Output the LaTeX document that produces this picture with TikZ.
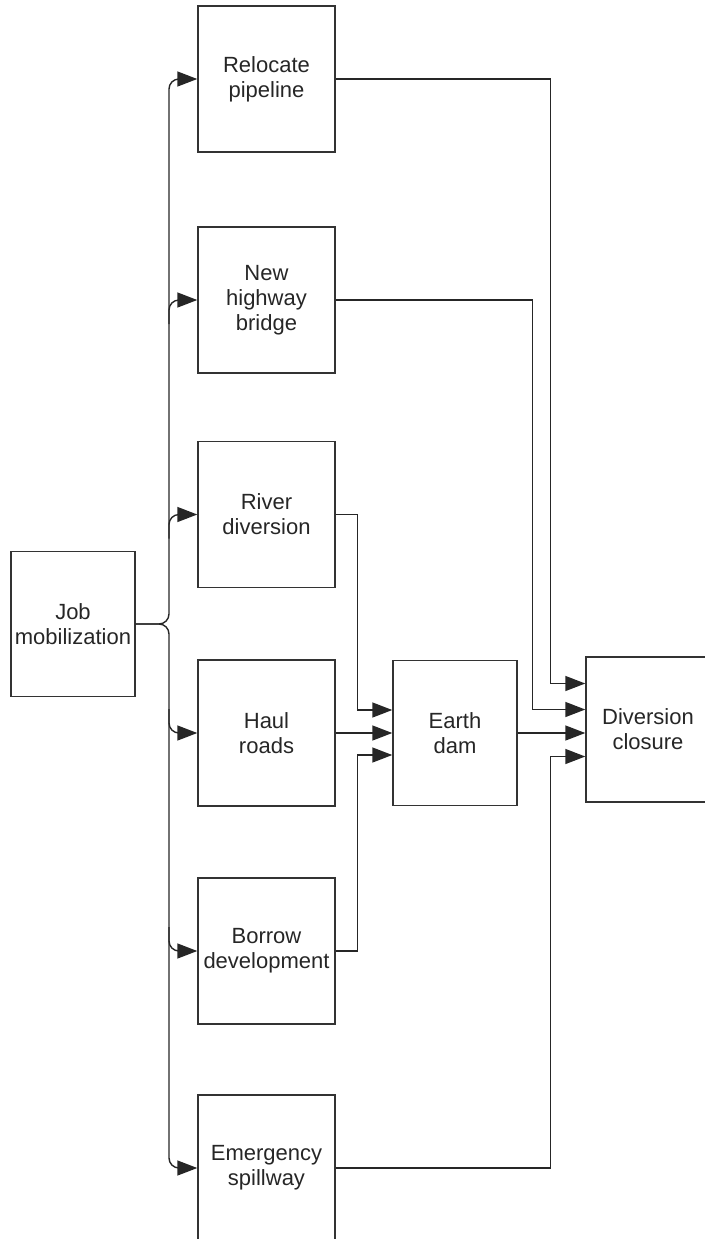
\documentclass[tikz,border=0pt]{standalone}
\usepackage{fontspec}
\setmainfont{Liberation Sans}
\usetikzlibrary{calc}
\usetikzlibrary{arrows.meta}

\begin{document}
\begin{tikzpicture}[x=0.5pt, y=-0.5pt,
        every node/.style={draw=black!80, line width=0.7pt, align=center,
            font=\fontsize{11}{12.5}\selectfont, text=black!85, inner sep=1pt},
        task/.style={minimum width=68.5pt, minimum height=73pt},
        small/.style={minimum width=62pt, minimum height=72.5pt},
        flow/.style={draw=black!85, line width=0.7pt, -{Triangle[length=10pt, width=7.5pt]}}]
    \useasboundingbox (0,0) rectangle (705,1239);
    \node[small] (job) at (73,624) {Job\\mobilization};
    \node[task] (pipe) at (266.5,79) {Relocate\\pipeline};
    \node[task] (bridge) at (266.5,300) {New\\highway\\bridge};
    \node[task] (river) at (266.5,514.5) {River\\diversion};
    \node[task] (haul) at (266.5,733) {Haul\\roads};
    \node[task] (borrow) at (266.5,951) {Borrow\\development};
    \node[task] (spill) at (266.5,1168) {Emergency\\spillway};
    \node[small] (dam) at (455,733) {Earth\\dam};
    \node[small] (div) at (648,729.5) {Diversion\\closure};
    \coordinate (bus) at (169,624);

    \draw[flow, rounded corners=5pt] (job.east) -| (bus |- pipe.west) -- (pipe.west);
    \draw[flow, rounded corners=5pt] (job.east) -| (bus |- spill.west) -- (spill.west);
    \draw[flow, rounded corners=5pt] ($(bus |- bridge.west)+(0,24)$) -- (bus |- bridge.west) -- (bridge.west);
    \draw[flow, rounded corners=5pt] ($(bus |- river.west)+(0,24)$) -- (bus |- river.west) -- (river.west);
    \draw[flow, rounded corners=5pt] ($(bus |- haul.west)+(0,-24)$) -- (bus |- haul.west) -- (haul.west);
    \draw[flow, rounded corners=5pt] ($(bus |- borrow.west)+(0,-24)$) -- (bus |- borrow.west) -- (borrow.west);

    \draw[flow] (river.east) -| ($(dam.west)+(-35,-23)$) -- ($(dam.west)+(0,-23)$);
    \draw[flow] (haul.east) -- (dam.west);
    \draw[flow] (borrow.east) -| ($(dam.west)+(-35,22)$) -- ($(dam.west)+(0,22)$);

    \draw[flow] (pipe.east) -| ($(div.west)+(-35,-46)$) -- ($(div.west)+(0,-46)$);
    \draw[flow] (bridge.east) -| ($(div.west)+(-53,-20)$) -- ($(div.west)+(0,-20)$);
    \draw[flow] (dam.east) -- (dam.east -| div.west);
    \draw[flow] (spill.east) -| ($(div.west)+(-35,27)$) -- ($(div.west)+(0,27)$);
\end{tikzpicture}
\end{document}
